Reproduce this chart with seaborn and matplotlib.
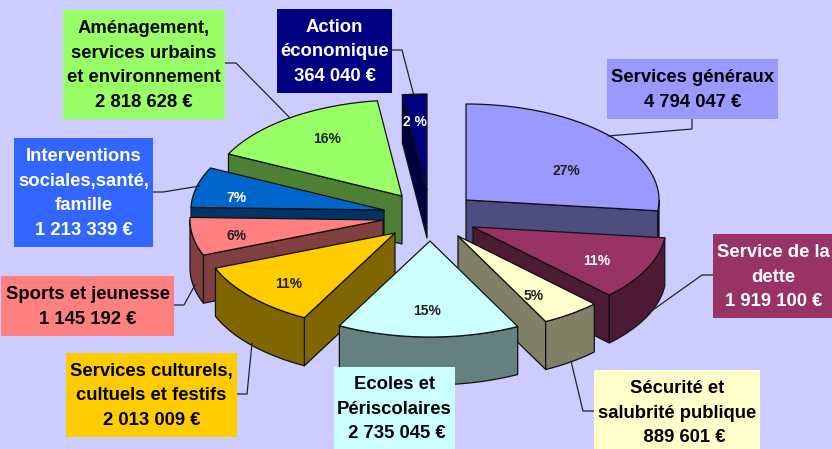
import numpy as np
import matplotlib
matplotlib.use("Agg")
import matplotlib.pyplot as plt
from matplotlib.patches import Rectangle
import seaborn as sns

# Budget values, clockwise from the top of the pie
categories = [
    "Services généraux",
    "Service de la\ndette",
    "Sécurité et\nsalubrité publique",
    "Ecoles et\nPériscolaires",
    "Services culturels,\ncultuels et festifs",
    "Sports et jeunesse",
    "Interventions\nsociales,santé,\nfamille",
    "Aménagement,\nservices urbains\net environnement",
    "Action\néconomique",
]
values = [4794047, 1919100, 889601, 2735045, 2013009, 1145192, 1213339, 2818628, 364040]
pct_labels = ["27%", "11%", "5%", "15%", "11%", "6%", "7%", "16%", "2 %"]
colors = ["#9999FF", "#993366", "#FFFFCC", "#CCFFFF", "#FFCC00", "#FF8080", "#0066CC", "#99FF66", "#000080"]
box_colors = ["#9999FF", "#993366", "#FFFFCC", "#CCFFFF", "#FFCC00", "#FF8080", "#3366FF", "#99FF66", "#000080"]
pct_colors = ["#222222", "white", "#222222", "#222222", "#222222", "#222222", "white", "#222222", "white"]
label_colors = ["black", "white", "black", "black", "black", "black", "white", "black", "white"]
amount_pad = ["", "", "   ", " ", "", "", "", "", ""]

# Layout in image pixels
apex_x = [466, 473, 458, 430, 395, 383, 384, 402, 427]
apex_y = [200, 227, 236, 241, 233, 220, 210, 196, 190]
pct_x = [566, 597, 534, 427, 289, 237, 236, 327, 415]
pct_y = [170, 260, 295, 310, 283, 235, 197, 138, 121]
boxes = [
    (607, 59, 778, 119),
    (713, 234, 834, 318),
    (594, 370, 760, 454),
    (334, 367, 455, 449),
    (66, 353, 237, 437),
    (1, 276, 174, 336),
    (14, 138, 153, 247),
    (63, 10, 225, 119),
    (277, 9, 392, 93),
]
leaders = [
    [(608, 136), (692, 129), (692, 119)],
    [(650, 312), (702, 275), (713, 275)],
    [(571, 361), (583, 411), (594, 411)],
    [],
    [(252, 343), (247, 394), (237, 394)],
    [(195, 285), (184, 305), (174, 305)],
    [(200, 186), (163, 192), (153, 192)],
    [(290, 118), (236, 63), (225, 63)],
    [(414, 96), (402, 50), (392, 50)],
]
RX, RY, DEPTH = 193, 96, 48
draw_order = [0, 8, 7, 6, 5, 1, 2, 4, 3]

sns.set_theme(style="white", rc={"figure.facecolor": "#CCCCFF", "axes.facecolor": "#CCCCFF"})
plt.rcParams["font.family"] = ["Liberation Sans", "DejaVu Sans"]

fig, ax = plt.subplots(figsize=(8.32, 4.49), dpi=100)
ax.set_position([0, 0, 1, 1])
ax.set_xlim(0, 832)
ax.set_ylim(449, 0)
ax.axis("off")

edges = np.cumsum([0] + values) / sum(values) * 2 * np.pi
EDGE = {"edgecolor": "#111111", "linewidth": 0.9, "joinstyle": "round"}


def ellipse(t, cx, cy):
    return cx + RX * np.sin(t), cy - RY * np.cos(t)


def wall(cx, cy, t, side):
    x, y = ellipse(t, cx, cy)
    ax.fill([cx, x, x, cx], [cy, y, y + DEPTH, cy + DEPTH], color=side, **EDGE)


for i in draw_order:
    t0, t1 = edges[i], edges[i + 1]
    cx, cy = apex_x[i], apex_y[i]
    r, g, b = matplotlib.colors.to_rgb(colors[i])
    side = (r / 2, g / 2, b / 2)
    # only the faces turned towards the viewer
    if np.sin(t0) < 0:
        wall(cx, cy, t0, side)
    if np.sin(t1) > 1e-6:
        wall(cx, cy, t1, side)
    lo, hi = max(t0, np.pi / 2), min(t1, 3 * np.pi / 2)
    if hi > lo:
        t = np.linspace(lo, hi, 60)
        x, y = ellipse(t, cx, cy)
        ax.fill(np.r_[x, x[::-1]], np.r_[y, y[::-1] + DEPTH], color=side, **EDGE)
    t = np.linspace(t0, t1, 80)
    x, y = ellipse(t, cx, cy)
    ax.fill(np.r_[cx, x], np.r_[cy, y], color=colors[i], **EDGE)

for i in range(len(values)):
    ax.text(pct_x[i], pct_y[i] + 1, pct_labels[i], color=pct_colors[i], fontsize=10,
            fontweight="bold", ha="center", va="center")
    if leaders[i]:
        ax.plot(*zip(*leaders[i]), color="#222222", linewidth=0.9)
    x0, y0, x1, y1 = boxes[i]
    ax.add_patch(Rectangle((x0, y0), x1 - x0, y1 - y0, facecolor=box_colors[i], edgecolor="none", zorder=3))
    amount = amount_pad[i] + f"{values[i]:,}".replace(",", " ") + " €"
    ax.text((x0 + x1) / 2, (y0 + y1) / 2 + 1, categories[i] + "\n" + amount, color=label_colors[i],
            fontsize=13.3, fontweight="bold", ha="center", va="center", linespacing=1.57, zorder=4)

fig.savefig("out.png", dpi=100, facecolor=fig.get_facecolor())
